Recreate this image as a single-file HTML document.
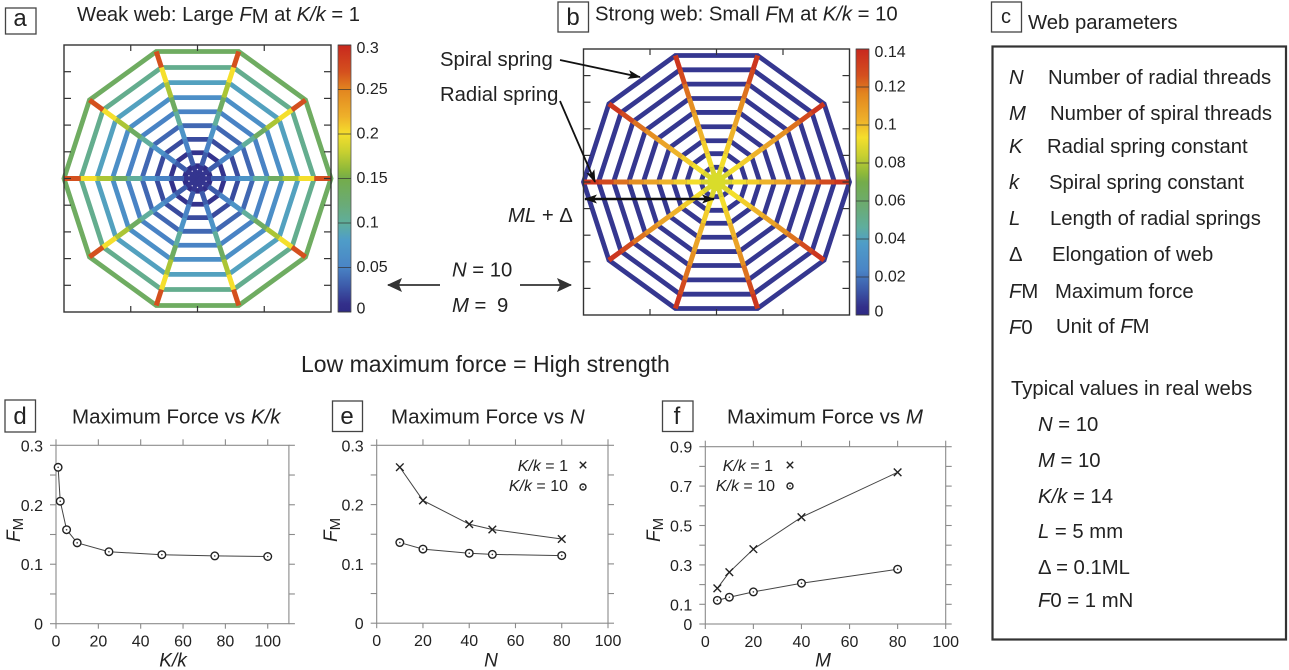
<!DOCTYPE html>
<html lang="en">
<head>
<meta charset="utf-8">
<title>Spider web strength figure</title>
<style>
  html, body { margin: 0; padding: 0; background: #fff; }
  svg { display: block; }
  text { font-family: "Liberation Sans", sans-serif; fill: #222; }
  .i { font-style: italic; }
  .p { font-size: 20.3px; }
  .ttl { font-size: 20.5px; }
  .let { font-size: 24px; text-anchor: middle; }
  .box { fill: #fff; stroke: #444; stroke-width: 1.3; }
</style>
</head>
<body>
<svg id="fig" xmlns="http://www.w3.org/2000/svg" width="1289" height="670" viewBox="0 0 1289 670">
  <defs>
    <linearGradient id="cbar" x1="0" y1="1" x2="0" y2="0"></linearGradient>
    <marker id="ah" markerWidth="13" markerHeight="9" refX="12" refY="4.5" orient="auto" markerUnits="userSpaceOnUse"><path d="M0,0 L13,4.5 L0,9 L3,4.5 Z" fill="#111"/></marker>
    <marker id="ahs" markerWidth="13" markerHeight="9" refX="1" refY="4.5" orient="auto" markerUnits="userSpaceOnUse"><path d="M13,0 L0,4.5 L13,9 L10,4.5 Z" fill="#111"/></marker>
    <marker id="ahb" markerWidth="15" markerHeight="14" refX="14" refY="7" orient="auto" markerUnits="userSpaceOnUse"><path d="M0,0 L15,7 L0,14 L3,7 Z" fill="#333"/></marker>
  </defs>
  <rect x="0" y="0" width="1289" height="670" fill="#fff"/>

  <g id="webA"></g>
  <g id="webB"></g>

  <rect class="box" x="5.5" y="8" width="30.5" height="26"/>
  <text class="let" x="20" y="26">a</text>
  <text x="77" y="21" font-size="20.2">Weak web: Large <tspan class="i">F</tspan><tspan dy="2">M</tspan><tspan dy="-2"> at </tspan><tspan class="i">K/k</tspan> = 1</text>

  <rect class="box" x="558" y="2" width="30.5" height="30"/>
  <text class="let" x="573" y="25">b</text>
  <text x="595" y="20.5" font-size="20.3">Strong web: Small <tspan class="i">F</tspan><tspan dy="2">M</tspan><tspan dy="-2"> at </tspan><tspan class="i">K/k</tspan> = 10</text>

  <text class="p" x="440" y="66">Spiral spring</text>
  <text class="p" x="440" y="101">Radial spring</text>
  <line x1="560" y1="60" x2="640" y2="77" stroke="#111" stroke-width="1.8" marker-end="url(#ah)"/>
  <line x1="560" y1="101" x2="595" y2="182" stroke="#111" stroke-width="1.8" marker-end="url(#ah)"/>
  <line x1="585" y1="199" x2="714" y2="199" stroke="#111" stroke-width="2.6" marker-end="url(#ah)" marker-start="url(#ahs)"/>
  <text class="p" x="508" y="222"><tspan class="i">ML</tspan> + Δ</text>

  <text class="p" x="452" y="276.5"><tspan class="i">N</tspan> = 10</text>
  <text class="p" x="452" y="312"><tspan class="i">M</tspan> =  <tspan dx="5">9</tspan></text>
  <line x1="440" y1="285" x2="388" y2="285" stroke="#333" stroke-width="1.8" marker-end="url(#ahb)"/>
  <line x1="520" y1="285" x2="571" y2="285" stroke="#333" stroke-width="1.8" marker-end="url(#ahb)"/>

  <text x="301" y="372" font-size="23">Low maximum force = High strength</text>

  <rect class="box" x="991.5" y="2" width="30" height="30"/>
  <text class="let" x="1006" y="23" style="font-size:20px">c</text>
  <text class="p" x="1028" y="29">Web parameters</text>
  <rect x="992.5" y="46.5" width="293.5" height="593" fill="#fff" stroke="#333" stroke-width="2.2"/>

  <g>
    <text class="p i" x="1009" y="84">N</text>
    <text class="p" x="1048" y="84">Number of radial threads</text>
    <text class="p i" x="1009" y="120">M</text>
    <text class="p" x="1050" y="120">Number of spiral threads</text>
    <text class="p i" x="1009" y="153">K</text>
    <text class="p" x="1047" y="153">Radial spring constant</text>
    <text class="p i" x="1009" y="189">k</text>
    <text class="p" x="1049" y="189">Spiral spring constant</text>
    <text class="p i" x="1009" y="225">L</text>
    <text class="p" x="1050" y="225">Length of radial springs</text>
    <text class="p" x="1009" y="261">Δ</text>
    <text class="p" x="1052" y="261">Elongation of web</text>
    <text class="p" x="1009" y="298"><tspan class="i">F</tspan>M</text>
    <text class="p" x="1055" y="298">Maximum force</text>
    <text class="p" x="1009" y="334"><tspan class="i">F</tspan>0</text>
    <text class="p" x="1056" y="333">Unit of <tspan class="i">F</tspan>M</text>
    <text class="p" x="1011" y="395">Typical values in real webs</text>
    <text class="p" x="1038" y="431"><tspan class="i">N</tspan> = 10</text>
    <text class="p" x="1038" y="467"><tspan class="i">M</tspan> = 10</text>
    <text class="p" x="1038" y="503"><tspan class="i">K/k</tspan> = 14</text>
    <text class="p" x="1038" y="538"><tspan class="i">L</tspan> = 5 mm</text>
    <text class="p" x="1038" y="574">Δ = 0.1ML</text>
    <text class="p" x="1038" y="607"><tspan class="i">F</tspan>0 = 1 mN</text>
  </g>

  <rect class="box" x="5" y="400" width="30.5" height="32"/>
  <text class="let" x="20" y="424">d</text>
  <text class="ttl" x="72" y="423.5">Maximum Force vs <tspan class="i">K/k</tspan></text>
  <rect class="box" x="332.5" y="401" width="30" height="30.5"/>
  <text class="let" x="347" y="424">e</text>
  <text class="ttl" x="391" y="423.5">Maximum Force vs <tspan class="i">N</tspan></text>
  <rect class="box" x="662.5" y="401" width="30.5" height="30.5"/>
  <text class="let" x="677" y="424">f</text>
  <text class="ttl" x="727" y="423.5">Maximum Force vs <tspan class="i">M</tspan></text>

  <g id="chartD"></g>
  <g id="chartE"></g>
  <g id="chartF"></g>
</svg>

<script>
// ---- Web panels: force on each spring, listed outer ring to inner ring ----
const ringRadiiA = [1, 0.874, 0.755, 0.637, 0.526, 0.416, 0.308, 0.203, 0.1];
const spiralForceA = [0.135, 0.108, 0.085, 0.064, 0.05, 0.036, 0.022, 0.011, 0.005];
const radialForceA = [0.27, 0.2, 0.17, 0.135, 0.1, 0.07, 0.05, 0.03, 0.012];
const ringRadiiB = [1, 0.887, 0.774, 0.66, 0.55, 0.437, 0.326, 0.224, 0.116];
const spiralForceB = [0.006, 0.006, 0.006, 0.006, 0.006, 0.006, 0.006, 0.006, 0.006];
const radialForceB = [0.135, 0.128, 0.12, 0.113, 0.107, 0.102, 0.097, 0.093, 0.088];
const colorbarTicksA = ['0', '0.05', '0.1', '0.15', '0.2', '0.25', '0.3'];
const colorbarTicksB = ['0', '0.02', '0.04', '0.06', '0.08', '0.1', '0.12', '0.14'];

// ---- Line charts ----
const stiffnessRatios = [1, 2, 5, 10, 25, 50, 75, 100];
const forceVsRatio = [0.263, 0.206, 0.158, 0.136, 0.121, 0.116, 0.114, 0.113];
const radialCounts = [10, 20, 40, 50, 80];
const forceVsRadialsK1 = [0.263, 0.207, 0.167, 0.158, 0.142];
const forceVsRadialsK10 = [0.136, 0.125, 0.118, 0.116, 0.114];
const spiralCounts = [5, 10, 20, 40, 80];
const forceVsSpiralsK1 = [0.181, 0.263, 0.38, 0.542, 0.77];
const forceVsSpiralsK10 = [0.12, 0.136, 0.163, 0.207, 0.278];
const xTicksPercent = [0, 20, 40, 60, 80, 100];
const yTicksDE = [0, 0.05, 0.1, 0.15, 0.2, 0.25, 0.3];
const yLabelsDE = [0, 0.1, 0.2, 0.3];
const yTicksF = [0, 0.1, 0.2, 0.3, 0.4, 0.5, 0.6, 0.7, 0.8, 0.9];
const yLabelsF = [0, 0.1, 0.3, 0.5, 0.7, 0.9];

const NS = 'http://www.w3.org/2000/svg';
function mk(parent, tag, attrs) {
  const el = document.createElementNS(NS, tag);
  for (const k in attrs) el.setAttribute(k, attrs[k]);
  parent.appendChild(el);
  return el;
}

// Colour scale sampled from the reference colorbar (position 0..1 → colour)
const cmapPos = [0, 0.03, 0.1, 0.17, 0.27, 0.33, 0.4, 0.5, 0.53, 0.6, 0.667, 0.733, 0.833, 0.9, 1];
const cmapCol = ['#2e2a85', '#332f8a', '#3d5cab', '#4a85c6', '#4f9dc8', '#5fae9e', '#6aab78', '#74ac4a', '#8cb83a', '#c8d030', '#f5df2c', '#eeb02a', '#e2851f', '#d4501e', '#c8281e'];
function hexRgb(h) { return [1, 3, 5].map(i => parseInt(h.substr(i, 2), 16)); }
function cmap(t) {
  t = Math.max(0, Math.min(1, t));
  let i = 0;
  while (i < cmapPos.length - 2 && t > cmapPos[i + 1]) i++;
  const f = (t - cmapPos[i]) / (cmapPos[i + 1] - cmapPos[i]);
  const a = hexRgb(cmapCol[i]), b = hexRgb(cmapCol[i + 1]);
  return 'rgb(' + a.map((v, j) => Math.round(v + (b[j] - v) * f)).join(',') + ')';
}
const grad = document.getElementById('cbar');
cmapPos.forEach((p, i) => {
  const st = mk(grad, 'stop', { offset: p, 'stop-color': cmapCol[i] });
  
  
});

function drawWeb(g, o) {
  const sx = v => o.cx + v * o.R;
  const sy = v => o.cy - v * o.R;
  const node = (r, k) => {
    const a = k * Math.PI / 5;
    return [sx(r * Math.cos(a)), sy(r * Math.sin(a))];
  };
  // hub
  const hub = mk(g, 'circle', { cx: o.cx, cy: o.cy, r: o.hubR, fill: o.hubFill });
  
  
  // spiral rings
  o.rings.forEach((r, i) => {
    const pts = [];
    for (let k = 0; k < 10; k++) pts.push(node(r, k).map(v => v.toFixed(2)).join(','));
    const ring = mk(g, 'polygon', { points: pts.join(' '), fill: 'none', stroke: cmap(o.spiral[i] / o.max), 'stroke-width': 4.8, 'stroke-linejoin': 'miter' });
    
    
  });
  // radial springs, one segment per ring gap
  for (let k = 0; k < 10; k++) {
    o.rings.forEach((r, i) => {
      const inner = i + 1 < o.rings.length ? o.rings[i + 1] : 0;
      const a = node(r, k), b = node(inner, k);
      const seg = mk(g, 'line', { x1: a[0], y1: a[1], x2: b[0], y2: b[1], stroke: cmap(o.radial[i] / o.max), 'stroke-width': 5 });
      
      
    });
  }
  if (o.hubTop) {
    const top = mk(g, 'circle', { cx: o.cx, cy: o.cy, r: o.hubTopR, fill: o.hubTop });
    
    
  }
  if (o.dots) {
    for (let k = 0; k < 10; k++) {
      const a = (k + 0.5) * Math.PI / 5;
      const d = mk(g, 'circle', { cx: o.cx + 9 * Math.cos(a), cy: o.cy - 9 * Math.sin(a), r: 0.7, fill: '#dfe0f0' });
      
      
    }
  }
  // frame with ticks on all sides
  const frame = mk(g, 'rect', { x: o.cx - o.R, y: o.cy - o.R, width: 2 * o.R, height: 2 * o.R, fill: 'none', stroke: '#333', 'stroke-width': 1.4 });
  
  
  for (let v = -0.5; v <= 0.5; v += 0.5) {
    [[sx(v), sy(1), sx(v), sy(1) + 6], [sx(v), sy(-1), sx(v), sy(-1) - 6]].forEach(t => {
      const tick = mk(g, 'line', { x1: t[0], y1: t[1], x2: t[2], y2: t[3], stroke: '#333', 'stroke-width': 1.2 });
      
      
    });
  }
  for (let n = -4; n <= 4; n++) {
    const v = n / 5;
    [[sx(-1), sy(v), sx(-1) + 7, sy(v)], [sx(1), sy(v), sx(1) - 7, sy(v)]].forEach(t => {
      const tick = mk(g, 'line', { x1: t[0], y1: t[1], x2: t[2], y2: t[3], stroke: '#333', 'stroke-width': 1.2 });
      
      
    });
  }
  // colorbar
  const top = o.cy - o.R, H = 2 * o.R;
  const bar = mk(g, 'rect', { x: o.barX, y: top, width: 13, height: H, fill: 'url(#cbar)', stroke: '#555', 'stroke-width': 0.8 });
  
  
  o.ticks.forEach(label => {
    const val = Number(label);
    const y = top + H * (1 - val / o.max);
    const tk = mk(g, 'line', { x1: o.barX, y1: y, x2: o.barX + 13, y2: y, stroke: '#333', 'stroke-width': 0.7 });
    
    
    const ty = y + (val === o.max ? 8 : val === 0 ? 1.5 : 4.5);
    const tx = mk(g, 'text', { x: o.barX + 18.5, y: ty, 'font-size': 16 });
    tx.textContent = label;
    
    
  });
}

drawWeb(document.getElementById('webA'), {
  cx: 197.5, cy: 178.5, R: 133.5, max: 0.3, rings: ringRadiiA, spiral: spiralForceA, radial: radialForceA,
  hubR: 13.5, hubFill: '#2f2a84', dots: true, barX: 338, ticks: colorbarTicksA
});
drawWeb(document.getElementById('webB'), {
  cx: 716.5, cy: 182, R: 133, max: 0.14, rings: ringRadiiB, spiral: spiralForceB, radial: radialForceB,
  hubR: 9, hubFill: '#d9dc2a', hubTop: '#d9dc2a', hubTopR: 9, barX: 856, ticks: colorbarTicksB
});

function drawChart(g, o) {
  const X = v => o.left + (v - 0) / o.xMax * (o.right - o.left);
  const Y = v => o.bottom - v / o.yMax * (o.bottom - o.top);
  const GR = '#8a8a8a';
  const fr = mk(g, 'rect', { x: o.left, y: o.top, width: o.right - o.left, height: o.bottom - o.top, fill: 'none', stroke: GR, 'stroke-width': 1.1 });
  
  
  o.xTicks.forEach(v => {
    [[o.top, o.top - 6], [o.bottom, o.bottom + 5]].forEach(t => {
      const l = mk(g, 'line', { x1: X(v), y1: t[0], x2: X(v), y2: t[1], stroke: GR, 'stroke-width': 1.1 });
      
      
    });
    const tx = mk(g, 'text', { x: X(v), y: o.bottom + 23, 'font-size': 16, 'text-anchor': 'middle' });
    tx.textContent = String(v);
    
    
  });
  o.yTicks.forEach(v => {
    [[o.left, o.left - 6], [o.right, o.right + 6]].forEach(t => {
      const l = mk(g, 'line', { x1: t[0], y1: Y(v), x2: t[1], y2: Y(v), stroke: GR, 'stroke-width': 1.1 });
      
      
    });
  });
  o.yLabels.forEach(v => {
    const tx = mk(g, 'text', { x: o.left - 13, y: Y(v) + 6, 'font-size': 16, 'text-anchor': 'end' });
    tx.textContent = String(v);
    
    
  });
  const xl = mk(g, 'text', { x: o.xLabelX, y: 666.5, 'font-size': 19, 'font-style': 'italic', 'text-anchor': 'middle' });
  xl.textContent = o.xLabel;
  
  
  const yl = mk(g, 'text', { transform: 'translate(' + o.yLabelX + ',542) rotate(-90)', 'font-size': 19 });
  
  
  const f = mk(yl, 'tspan', { 'font-style': 'italic' });
  f.textContent = 'F';
  
  
  const m = mk(yl, 'tspan', { dy: 3, 'font-size': 15 });
  m.textContent = 'M';
  
  

  o.series.forEach(s => {
    const pts = s.y.map((v, i) => X(o.x[i]).toFixed(2) + ',' + Y(v).toFixed(2)).join(' ');
    const pl = mk(g, 'polyline', { points: pts, fill: 'none', stroke: '#444', 'stroke-width': 1 });
    
    
    s.y.forEach((v, i) => drawMarker(g, s.marker, X(o.x[i]), Y(v), 3.8));
  });
}
function drawMarker(g, kind, x, y, r) {
  if (kind === 'circle') {
    const c = mk(g, 'circle', { cx: x, cy: y, r: r, fill: '#fff', stroke: '#222', 'stroke-width': 1.4 });
    
    
    const d = mk(g, 'circle', { cx: x, cy: y, r: 0.8, fill: '#333' });
    
    
  } else {
    const p = mk(g, 'path', { d: 'M' + (x - r) + ',' + (y - r) + 'L' + (x + r) + ',' + (y + r) + 'M' + (x - r) + ',' + (y + r) + 'L' + (x + r) + ',' + (y - r), stroke: '#222', 'stroke-width': 1.4, fill: 'none' });
    
    
  }
}
function drawLegend(g, rows) {
  rows.forEach(r => {
    const t = mk(g, 'text', { x: r.x, y: r.y, 'font-size': 16, 'text-anchor': 'end' });
    
    
    const a = mk(t, 'tspan', { 'font-style': 'italic' });
    a.textContent = 'K/k';
    
    
    const b = mk(t, 'tspan', {});
    b.textContent = ' = ' + r.value;
    
    
    drawMarker(g, r.marker, r.mx, r.my, r.marker === 'circle' ? 3 : 3.2);
  });
}

const chD = document.getElementById('chartD');
const chE = document.getElementById('chartE');
const chF = document.getElementById('chartF');
drawChart(chD, {
  left: 56, right: 288.9, top: 445.3, bottom: 623.7, xMax: 110, yMax: 0.3,
  x: stiffnessRatios, series: [{ y: forceVsRatio, marker: 'circle' }],
  xTicks: xTicksPercent, yTicks: yTicksDE, yLabels: yLabelsDE,
  xLabel: 'K/k', xLabelX: 173, yLabelX: 20
});
drawChart(chE, {
  left: 376.7, right: 608, top: 445.3, bottom: 623.2, xMax: 100, yMax: 0.3,
  x: radialCounts, series: [{ y: forceVsRadialsK1, marker: 'cross' }, { y: forceVsRadialsK10, marker: 'circle' }],
  xTicks: xTicksPercent, yTicks: yTicksDE, yLabels: yLabelsDE,
  xLabel: 'N', xLabelX: 491, yLabelX: 337
});
drawChart(chF, {
  left: 705.3, right: 945.7, top: 446.7, bottom: 624, xMax: 100, yMax: 0.9,
  x: spiralCounts, series: [{ y: forceVsSpiralsK1, marker: 'cross' }, { y: forceVsSpiralsK10, marker: 'circle' }],
  xTicks: xTicksPercent, yTicks: yTicksF, yLabels: yLabelsF,
  xLabel: 'M', xLabelX: 823, yLabelX: 660
});
drawLegend(chE, [
  { x: 568, y: 471, value: '1', marker: 'cross', mx: 583, my: 465 },
  { x: 568, y: 491, value: '10', marker: 'circle', mx: 583, my: 487 }
]);
drawLegend(chF, [
  { x: 773, y: 471, value: '1', marker: 'cross', mx: 790, my: 465 },
  { x: 775, y: 491, value: '10', marker: 'circle', mx: 790, my: 486 }
]);
</script>
</body>
</html>
